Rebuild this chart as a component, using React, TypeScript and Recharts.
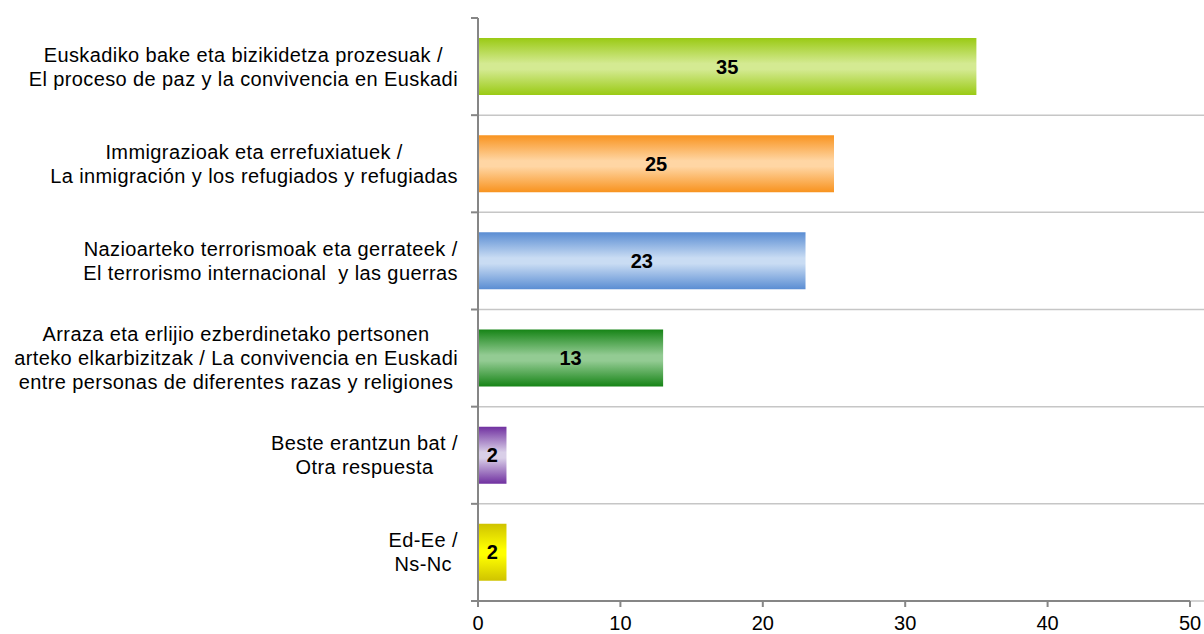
import React from 'react'
import { BarChart, Bar, XAxis, YAxis, CartesianGrid, Cell, LabelList } from 'recharts'

const CATEGORIES = [
  'Euskadiko bake eta bizikidetza prozesuak /\nEl proceso de paz y la convivencia en Euskadi',
  'Immigrazioak eta errefuxiatuek /\nLa inmigración y los refugiados y refugiadas',
  'Nazioarteko terrorismoak eta gerrateek /\nEl terrorismo internacional  y las guerras',
  'Arraza eta erlijio ezberdinetako pertsonen\narteko elkarbizitzak / La convivencia en Euskadi\nentre personas de diferentes razas y religiones',
  'Beste erantzun bat /\nOtra respuesta',
  'Ed-Ee /\nNs-Nc',
]
const VALUES = [35, 25, 23, 13, 2, 2]
const X_TICKS = [0, 10, 20, 30, 40, 50]

// edge colour, middle colour of each bar's gradient
const EDGE_COLORS = ['#9aca14', '#f8931f', '#5a8dd3', '#168416', '#7030a0', '#cfc300']
const MID_COLORS = ['#d4ea92', '#ffd6a4', '#c9dcf3', '#93cb93', '#d9cfe8', '#ffff00']

const FONT = '"Liberation Sans", Arial, sans-serif'
const LABEL_SIZE = 20
const LETTER_SPACING = 0.4
const AXIS_COLOR = '#868686'

const data = CATEGORIES.map((name, i) => ({ name, value: VALUES[i] }))

let ctx: CanvasRenderingContext2D | null = null
function textWidth(s: string) {
  if (!ctx) ctx = document.createElement('canvas').getContext('2d')
  if (!ctx) return s.length * LABEL_SIZE * 0.5
  ctx.font = `${LABEL_SIZE}px "Liberation Sans", Arial, sans-serif`
  return ctx.measureText(s).width + s.length * LETTER_SPACING
}

function CategoryTick(props: any) {
  const { x, y, payload } = props
  const lines: string[] = String(payload.value).split('\n')
  const half = payload.offset ?? 48.6
  const w = Math.max(...lines.map(textWidth))
  const right = x - 20
  const cx = right - w / 2
  const lh = 24
  const startY = y - ((lines.length - 1) * lh) / 2
  return (
    <g>
      <line x1={x - 7} x2={x} y1={y - half} y2={y - half} stroke={AXIS_COLOR} strokeWidth={2} />
      {payload.index === CATEGORIES.length - 1 && (
        <line x1={x - 7} x2={x} y1={y + half} y2={y + half} stroke={AXIS_COLOR} strokeWidth={2} />
      )}
      <text
        textAnchor="middle"
        fontFamily={FONT}
        fontSize={LABEL_SIZE}
        letterSpacing={LETTER_SPACING}
        fill="#000"
        style={{ whiteSpace: 'pre' }}
      >
        {lines.map((l, i) => (
          <tspan key={i} x={cx} y={startY + i * lh} dy="0.35em">
            {l}
          </tspan>
        ))}
      </text>
    </g>
  )
}

export default function App() {
  return (
    <div style={{ position: 'absolute', left: 0, top: 0, background: '#fff' }}>
      <BarChart
        width={1204}
        height={634}
        data={data}
        layout="vertical"
        margin={{ top: 18, right: 14, bottom: 0, left: 0 }}
        barSize={57}
      >
        <defs>
          {EDGE_COLORS.map((c, i) => (
            <linearGradient key={i} id={`grad${i}`} x1="0" y1="0" x2="0" y2="1">
              <stop offset="0%" stopColor={c} />
              <stop offset="45%" stopColor={MID_COLORS[i]} />
              <stop offset="55%" stopColor={MID_COLORS[i]} />
              <stop offset="100%" stopColor={c} />
            </linearGradient>
          ))}
        </defs>
        <CartesianGrid
          vertical={false}
          stroke="#c6c6c6"
          strokeWidth={1.5}
          x={478}
          width={726}
          horizontalCoordinatesGenerator={({ offset }: any) =>
            CATEGORIES.map((_, i) => offset.top + ((i + 1) * offset.height) / CATEGORIES.length)
          }
        />
        <XAxis
          type="number"
          domain={[0, 50]}
          ticks={X_TICKS}
          interval={0}
          height={33}
          stroke={AXIS_COLOR}
          strokeWidth={2}
          tickSize={6}
          tickMargin={9}
          tick={{ fill: '#000', fontSize: LABEL_SIZE, fontFamily: FONT }}
        />
        <YAxis
          type="category"
          dataKey="name"
          width={478}
          interval={0}
          tickLine={false}
          tickSize={0}
          tickMargin={0}
          stroke={AXIS_COLOR}
          strokeWidth={2}
          tick={<CategoryTick />}
        />
        <Bar dataKey="value" isAnimationActive={false}>
          {data.map((_, i) => (
            <Cell key={i} fill={`url(#grad${i})`} />
          ))}
          <LabelList
            dataKey="value"
            position="center"
            fill="#000"
            fontSize={20}
            fontWeight="bold"
            fontFamily={FONT}
          />
        </Bar>
      </BarChart>
    </div>
  )
}
